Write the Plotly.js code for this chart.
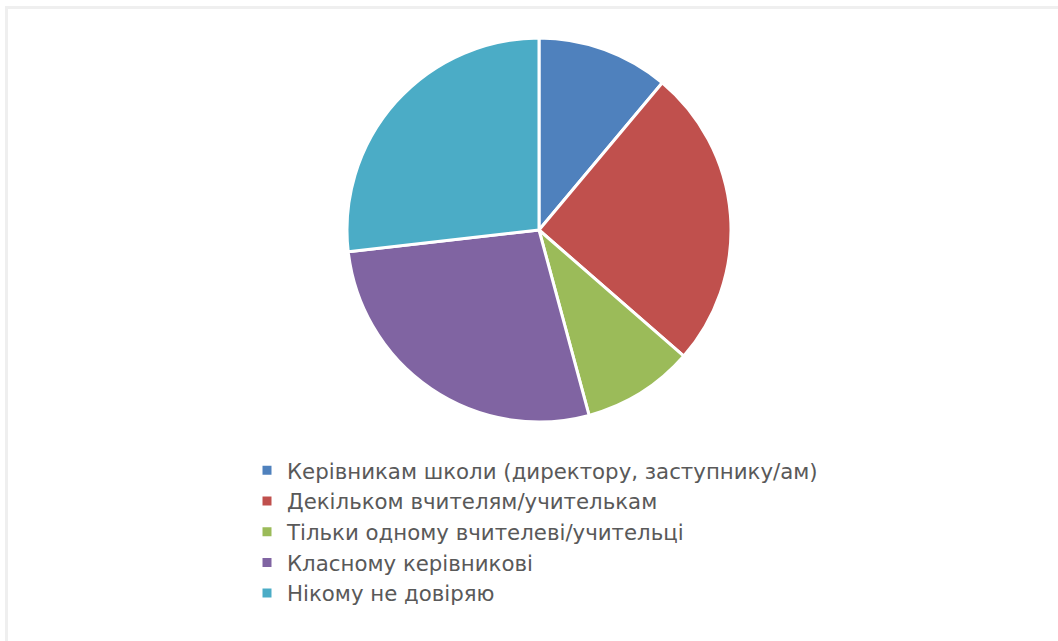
<!DOCTYPE html>
<html>
<head>
<meta charset="utf-8">
<script src="https://cdn.plot.ly/plotly-3.0.1.min.js"></script>
<style>
html,body{margin:0;padding:0;background:#fff;}
#chart{width:1058px;height:641px;}
</style>
</head>
<body>
<div id="chart"></div>
<script>
const categories = [
  "Керівникам школи (директору, заступнику/ам)",
  "Декільком вчителям/учителькам",
  "Тільки одному вчителеві/учительці",
  "Класному керівникові",
  "Нікому не довіряю"
];
const values = [11.1, 25.3, 9.4, 27.4, 26.8];
const colors = ["#4F81BD", "#C0504D", "#9BBB59", "#8064A2", "#4BACC6"];

const W = 1058, H = 641;
const cx = 539, cy = 230, r = 192;

const data = [{
  type: "pie",
  labels: categories,
  values: values,
  sort: false,
  direction: "clockwise",
  rotation: 0,
  textinfo: "none",
  hoverinfo: "label+percent",
  marker: {colors: colors, line: {color: "#FFFFFF", width: 3}},
  domain: {x: [(cx - r) / W, (cx + r) / W], y: [1 - (cy + r) / H, 1 - (cy - r) / H]}
}];

const layout = {
  width: W, height: H,
  margin: {l: 0, r: 0, t: 0, b: 0},
  paper_bgcolor: "#FFFFFF",
  plot_bgcolor: "#FFFFFF",
  showlegend: true,
  legend: {
    x: 247 / W, xanchor: "left",
    y: 1 - 450 / H, yanchor: "top",
    font: {family: "DejaVu Sans, sans-serif", size: 21.3, color: "#595959"},
    bgcolor: "rgba(0,0,0,0)",
    traceorder: "normal"
  },
  shapes: [
    {type: "line", xref: "paper", yref: "paper", x0: 6.5 / W, x1: 6.5 / W, y0: 1 - 7.5 / H, y1: 0, line: {color: "#EFEFEF", width: 3}},
    {type: "line", xref: "paper", yref: "paper", x0: 5 / W, x1: 1, y0: 1 - 7.5 / H, y1: 1 - 7.5 / H, line: {color: "#EFEFEF", width: 3}}
  ]
};

Plotly.newPlot("chart", data, layout, {displayModeBar: false, staticPlot: true});
</script>
</body>
</html>
